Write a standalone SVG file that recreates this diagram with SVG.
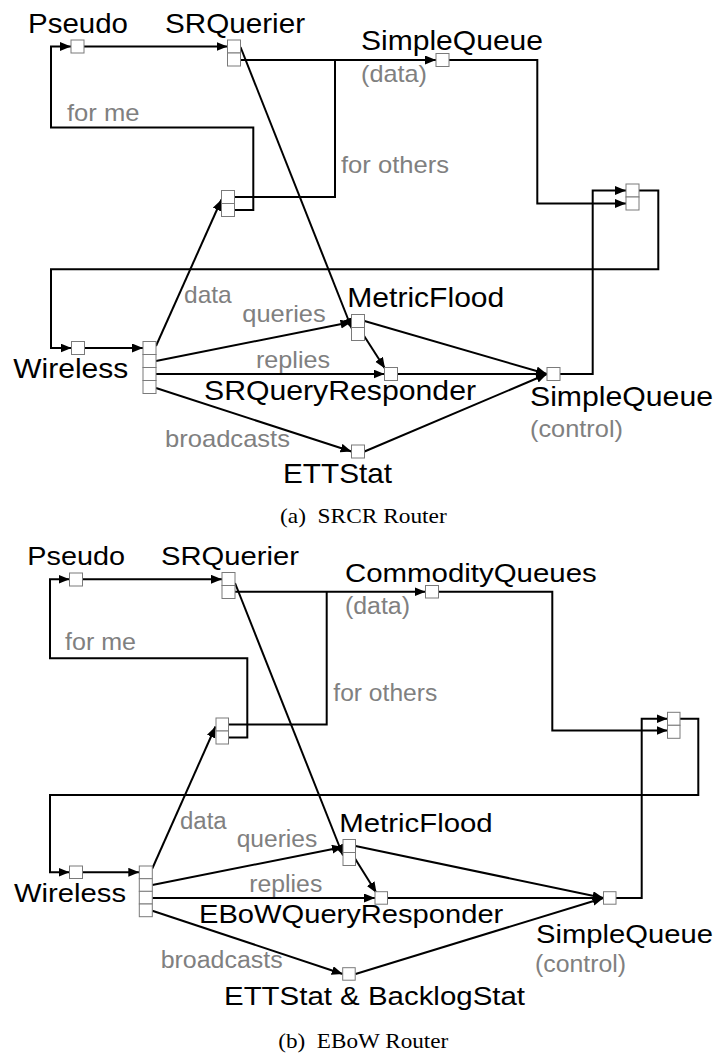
<svg xmlns="http://www.w3.org/2000/svg" width="717" height="1053" viewBox="0 0 717 1053">
<style>
.bx{fill:#fff;stroke:#7a7a7a;stroke-width:1}
.ln{fill:none;stroke:#000;stroke-width:2}
.ar{marker-end:url(#ah)}
.t{font-family:"Liberation Sans",Arial,sans-serif;fill:#000}
.g{font-family:"Liberation Sans",Arial,sans-serif;fill:#808080}
.cap{font-family:"Liberation Serif","Times New Roman",serif;fill:#000}
.a{font-size:28px}
.ag{font-size:24px}
.b{font-size:26px}
.bg{font-size:23px}
.c{font-size:21px}
</style>
<defs>
<marker id="ah" markerUnits="userSpaceOnUse" markerWidth="12" markerHeight="10" refX="11" refY="4.5" orient="auto">
<path d="M0,0 L11,4.5 L0,9 z" fill="#000"/>
</marker>
</defs>
<rect width="717" height="1053" fill="#fff"/>

<!-- ===== (a) connectors ===== -->
<g id="connectors-a">
<path class="ln ar" d="M84,46.5 H227.5"/>
<path class="ln ar" d="M234.5,210 H253.3 V127.5 H51 V46.5 H71"/>
<path class="ln" d="M234.5,197 H335 V60"/>
<path class="ln ar" d="M240.5,60 H436"/>
<path class="ln ar" d="M240.5,47 L352,329"/>
<path class="ln ar" d="M449,60 H537.3 V203.5 H626"/>
<path class="ln ar" d="M560,374 H592.7 V190.5 H626"/>
<path class="ln ar" d="M639,190.5 H658.3 V269.3 H51 V348 H71.5"/>
<path class="ln ar" d="M84.5,348 H143"/>
<path class="ln ar" d="M156,346 L221.5,199.5"/>
<path class="ln ar" d="M156,361 L351.5,322"/>
<path class="ln ar" d="M156,374 H384.5"/>
<path class="ln ar" d="M156,388 L351.5,451.5"/>
<path class="ln ar" d="M364.5,321 L547,374"/>
<path class="ln ar" d="M363.5,335 L385,368.5"/>
<path class="ln ar" d="M397.5,374 H547"/>
<path class="ln ar" d="M364.5,451.5 L547,374"/>
</g>

<!-- ===== (a) nodes ===== -->
<g id="a-pseudo"><rect class="bx" x="71" y="40" width="13" height="13"/><text class="t a" x="28" y="33" textLength="100" lengthAdjust="spacingAndGlyphs">Pseudo</text></g>
<g id="a-srquerier"><rect class="bx" x="227.5" y="40" width="13" height="13"/><rect class="bx" x="227.5" y="53" width="13" height="13"/><text class="t a" x="165" y="33" textLength="140" lengthAdjust="spacingAndGlyphs">SRQuerier</text></g>
<g id="a-sqdata"><rect class="bx" x="436" y="53.5" width="13" height="13"/><text class="t a" x="361" y="49.5" textLength="182" lengthAdjust="spacingAndGlyphs">SimpleQueue</text><text class="g ag" x="361" y="81.5" textLength="66" lengthAdjust="spacingAndGlyphs">(data)</text></g>
<g id="a-classifier"><rect class="bx" x="221.5" y="190.5" width="13" height="13"/><rect class="bx" x="221.5" y="203.5" width="13" height="13"/></g>
<g id="a-prio"><rect class="bx" x="626" y="184" width="13" height="13"/><rect class="bx" x="626" y="197" width="13" height="13"/></g>
<g id="a-wireless"><rect class="bx" x="71.5" y="341.5" width="13" height="13"/><text class="t a" x="13.3" y="378.3" textLength="115" lengthAdjust="spacingAndGlyphs">Wireless</text></g>
<g id="a-demux"><rect class="bx" x="143" y="341.5" width="13" height="13"/><rect class="bx" x="143" y="354.5" width="13" height="13"/><rect class="bx" x="143" y="367.5" width="13" height="13"/><rect class="bx" x="143" y="380.5" width="13" height="13"/></g>
<g id="a-metricflood"><rect class="bx" x="351.5" y="314.5" width="13" height="13"/><rect class="bx" x="351.5" y="327.5" width="13" height="13"/><text class="t a" x="347.3" y="307.3" textLength="157" lengthAdjust="spacingAndGlyphs">MetricFlood</text></g>
<g id="a-srqr"><rect class="bx" x="384.5" y="367.5" width="13" height="13"/><text class="t a" x="204" y="400" textLength="272" lengthAdjust="spacingAndGlyphs">SRQueryResponder</text></g>
<g id="a-sqctrl"><rect class="bx" x="547" y="367.5" width="13" height="13"/><text class="t a" x="530" y="405.5" textLength="183" lengthAdjust="spacingAndGlyphs">SimpleQueue</text><text class="g ag" x="530" y="436.5" textLength="93" lengthAdjust="spacingAndGlyphs">(control)</text></g>
<g id="a-ettstat"><rect class="bx" x="351.5" y="445" width="13" height="13"/><text class="t a" x="283" y="483.3" textLength="109" lengthAdjust="spacingAndGlyphs">ETTStat</text></g>
<g id="a-labels">
<text class="g ag" x="67" y="120.5" textLength="72.5" lengthAdjust="spacingAndGlyphs">for me</text>
<text class="g ag" x="341" y="173" textLength="108" lengthAdjust="spacingAndGlyphs">for others</text>
<text class="g ag" x="184" y="303" textLength="47.7" lengthAdjust="spacingAndGlyphs">data</text>
<text class="g ag" x="242.3" y="321.5" textLength="83.4" lengthAdjust="spacingAndGlyphs">queries</text>
<text class="g ag" x="256" y="368.3" textLength="74" lengthAdjust="spacingAndGlyphs">replies</text>
<text class="g ag" x="165" y="447.3" textLength="125" lengthAdjust="spacingAndGlyphs">broadcasts</text>
<text class="cap c" x="280" y="523.3" textLength="166.7" lengthAdjust="spacingAndGlyphs" xml:space="preserve">(a)  SRCR Router</text>
</g>

<!-- ===== (b) connectors ===== -->
<g id="connectors-b">
<path class="ln ar" d="M82.5,579.3 H222"/>
<path class="ln ar" d="M228.5,737.5 H247.3 V658.3 H50 V579.3 H69.5"/>
<path class="ln" d="M228.5,724.5 H326.7 V591.8"/>
<path class="ln ar" d="M235,591.8 H425.5"/>
<path class="ln ar" d="M235,583 L343,855.5"/>
<path class="ln ar" d="M438,591.8 H552.3 V730.5 H667.5"/>
<path class="ln ar" d="M616,898 H641.7 V718.7 H667.5"/>
<path class="ln ar" d="M680,718.7 H698.3 V795 H50 V872.3 H69.5"/>
<path class="ln ar" d="M82.5,872.3 H139.3"/>
<path class="ln ar" d="M152.3,868.5 L215.5,726.5"/>
<path class="ln ar" d="M152.3,885 L343,847"/>
<path class="ln ar" d="M152.3,898 H375"/>
<path class="ln ar" d="M152.3,910.7 L342.7,974"/>
<path class="ln ar" d="M355.5,846 L603.5,898"/>
<path class="ln ar" d="M355,858.5 L376.5,893"/>
<path class="ln ar" d="M387.5,898 H603.5"/>
<path class="ln ar" d="M355.5,974 L603.5,898"/>
</g>

<!-- ===== (b) nodes ===== -->
<g id="b-pseudo"><rect class="bx" x="69.5" y="573" width="13" height="13"/><text class="t b" x="27.3" y="565" textLength="97.7" lengthAdjust="spacingAndGlyphs">Pseudo</text></g>
<g id="b-srquerier"><rect class="bx" x="222" y="572.5" width="13" height="13"/><rect class="bx" x="222" y="585.5" width="13" height="13"/><text class="t b" x="161" y="565" textLength="138" lengthAdjust="spacingAndGlyphs">SRQuerier</text></g>
<g id="b-commodity"><rect class="bx" x="425.5" y="585.5" width="13" height="12.5"/><text class="t b" x="345" y="581.7" textLength="251.7" lengthAdjust="spacingAndGlyphs">CommodityQueues</text><text class="g bg" x="345" y="613.5" textLength="65" lengthAdjust="spacingAndGlyphs">(data)</text></g>
<g id="b-classifier"><rect class="bx" x="216" y="718" width="12.5" height="13"/><rect class="bx" x="216" y="731" width="12.5" height="13"/></g>
<g id="b-prio"><rect class="bx" x="667.5" y="712.3" width="12.5" height="13"/><rect class="bx" x="667.5" y="725.3" width="12.5" height="13"/></g>
<g id="b-wireless"><rect class="bx" x="69.5" y="866" width="13" height="12.5"/><text class="t b" x="14" y="902.3" textLength="112" lengthAdjust="spacingAndGlyphs">Wireless</text></g>
<g id="b-demux"><rect class="bx" x="139.3" y="866" width="13" height="12.7"/><rect class="bx" x="139.3" y="878.7" width="13" height="12.7"/><rect class="bx" x="139.3" y="891.3" width="13" height="12.7"/><rect class="bx" x="139.3" y="904" width="13" height="12.7"/></g>
<g id="b-metricflood"><rect class="bx" x="343" y="839.5" width="12.5" height="13"/><rect class="bx" x="343" y="852.5" width="12.5" height="13"/><text class="t b" x="339.3" y="831.7" textLength="153.4" lengthAdjust="spacingAndGlyphs">MetricFlood</text></g>
<g id="b-eqr"><rect class="bx" x="375" y="891.7" width="12.5" height="12.5"/><text class="t b" x="199" y="922.7" textLength="304.3" lengthAdjust="spacingAndGlyphs">EBoWQueryResponder</text></g>
<g id="b-sqctrl"><rect class="bx" x="603.5" y="891.7" width="12.5" height="12.5"/><text class="t b" x="536" y="943.3" textLength="177" lengthAdjust="spacingAndGlyphs">SimpleQueue</text><text class="g bg" x="535" y="972" textLength="91" lengthAdjust="spacingAndGlyphs">(control)</text></g>
<g id="b-ettstat"><rect class="bx" x="342.7" y="967.7" width="12.5" height="12.5"/><text class="t b" x="224" y="1005" textLength="301" lengthAdjust="spacingAndGlyphs">ETTStat &amp; BacklogStat</text></g>
<g id="b-labels">
<text class="g bg" x="65" y="650" textLength="71" lengthAdjust="spacingAndGlyphs">for me</text>
<text class="g bg" x="333.3" y="700.7" textLength="104" lengthAdjust="spacingAndGlyphs">for others</text>
<text class="g bg" x="180" y="829.3" textLength="46.7" lengthAdjust="spacingAndGlyphs">data</text>
<text class="g bg" x="236.7" y="846.5" textLength="80.6" lengthAdjust="spacingAndGlyphs">queries</text>
<text class="g bg" x="249.3" y="892" textLength="73" lengthAdjust="spacingAndGlyphs">replies</text>
<text class="g bg" x="160.7" y="968.3" textLength="122" lengthAdjust="spacingAndGlyphs">broadcasts</text>
<text class="cap c" x="278.3" y="1048.3" textLength="170" lengthAdjust="spacingAndGlyphs" xml:space="preserve">(b)  EBoW Router</text>
</g>
</svg>
